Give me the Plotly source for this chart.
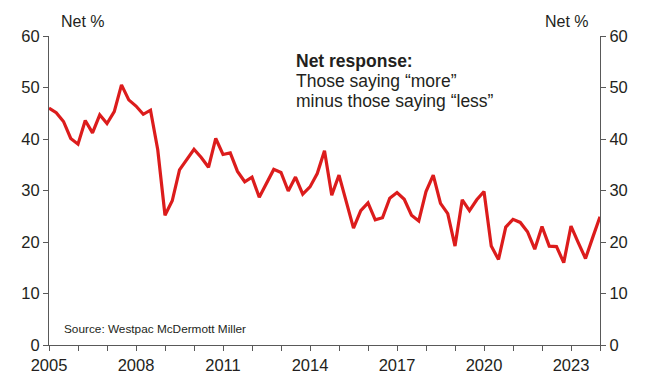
import plotly.graph_objects as go

# Quarterly, 2005 Q1 .. 2024 Q1
start_year = 2005.0
net_pct = [46.0, 45.1, 43.4, 40.1, 39.0, 43.6, 41.2, 44.7, 43.0, 45.3,
           50.5, 47.6, 46.4, 44.8, 45.6, 37.9, 25.2, 28.0, 34.0, 36.1,
           38.0, 36.4, 34.5, 40.1, 37.0, 37.3, 33.7, 31.7, 32.6, 28.7,
           31.4, 34.1, 33.5, 29.9, 32.6, 29.3, 30.7, 33.3, 37.7, 29.1,
           33.0, 27.8, 22.7, 26.1, 27.6, 24.3, 24.7, 28.5, 29.6, 28.3,
           25.2, 24.1, 29.8, 33.0, 27.5, 25.5, 19.2, 28.2, 26.1, 28.2,
           29.8, 19.2, 16.6, 22.9, 24.4, 23.8, 22.0, 18.6, 23.0, 19.2,
           19.1, 16.0, 23.1, 19.9, 16.8, 20.9, 24.9]
x_vals = [start_year + 0.25 * i for i in range(len(net_pct))]

year_ticks = list(range(2005, 2025))
year_labels = [str(y) if (y - 2005) % 3 == 0 else "" for y in year_ticks]
y_ticks = [0, 10, 20, 30, 40, 50, 60]

note_lines = ["<b>Net response:</b>", "Those saying \u201cmore\u201d",
              "minus those saying \u201cless\u201d"]

font_family = "Liberation Sans, Arial, sans-serif"
text_color = "#231f20"
axis_color = "#595959"

fig = go.Figure()
fig.add_trace(go.Scatter(x=x_vals, y=net_pct, mode="lines",
                         line=dict(color="#dc1c1c", width=3.2),
                         showlegend=False, hoverinfo="skip"))
fig.add_trace(go.Scatter(x=x_vals, y=net_pct, yaxis="y2", mode="lines",
                         line=dict(width=0), opacity=0, showlegend=False,
                         hoverinfo="skip"))

axis_common = dict(ticks="outside", ticklen=5, tickcolor=axis_color,
                   showline=True, linecolor=axis_color, linewidth=1.2,
                   showgrid=False, zeroline=False, automargin=False,
                   tickfont=dict(size=16.5, color=text_color))

fig.update_layout(
    width=647, height=376,
    margin=dict(l=49, r=47, t=36, b=31, autoexpand=False),
    paper_bgcolor="white", plot_bgcolor="white",
    font=dict(family=font_family, color=text_color, size=16),
    xaxis=dict(range=[2005, 2024.0], tickvals=year_ticks, ticktext=year_labels,
               **axis_common),
    yaxis=dict(range=[0, 60], tickvals=y_ticks, **axis_common),
    yaxis2=dict(range=[0, 60], tickvals=y_ticks, overlaying="y", side="right",
                **axis_common),
)

fig.add_annotation(x=0.0, y=1.0, xref="paper", yref="paper", xshift=10, yshift=4,
                   text="Net %", xanchor="left", yanchor="bottom", showarrow=False,
                   font=dict(size=16, color=text_color))
fig.add_annotation(x=1.0, y=1.0, xref="paper", yref="paper", xshift=-9, yshift=4,
                   text="Net %", xanchor="right", yanchor="bottom", showarrow=False,
                   font=dict(size=16, color=text_color))

for k, line in enumerate(note_lines):
    fig.add_annotation(x=2013.45, y=55.1 - 3.9 * k, xref="x", yref="y",
                       xanchor="left", yanchor="middle", align="left",
                       showarrow=False, text=line,
                       font=dict(size=17.5, color=text_color))

fig.add_annotation(x=2005.45, y=3.1, xref="x", yref="y", xanchor="left",
                   yanchor="middle", showarrow=False,
                   text="Source: Westpac McDermott Miller",
                   font=dict(size=11.8, color=text_color))

fig.write_html("out.html", config={"displayModeBar": False},
               post_script="document.body.style.margin='0';document.body.style.overflow='hidden';")
